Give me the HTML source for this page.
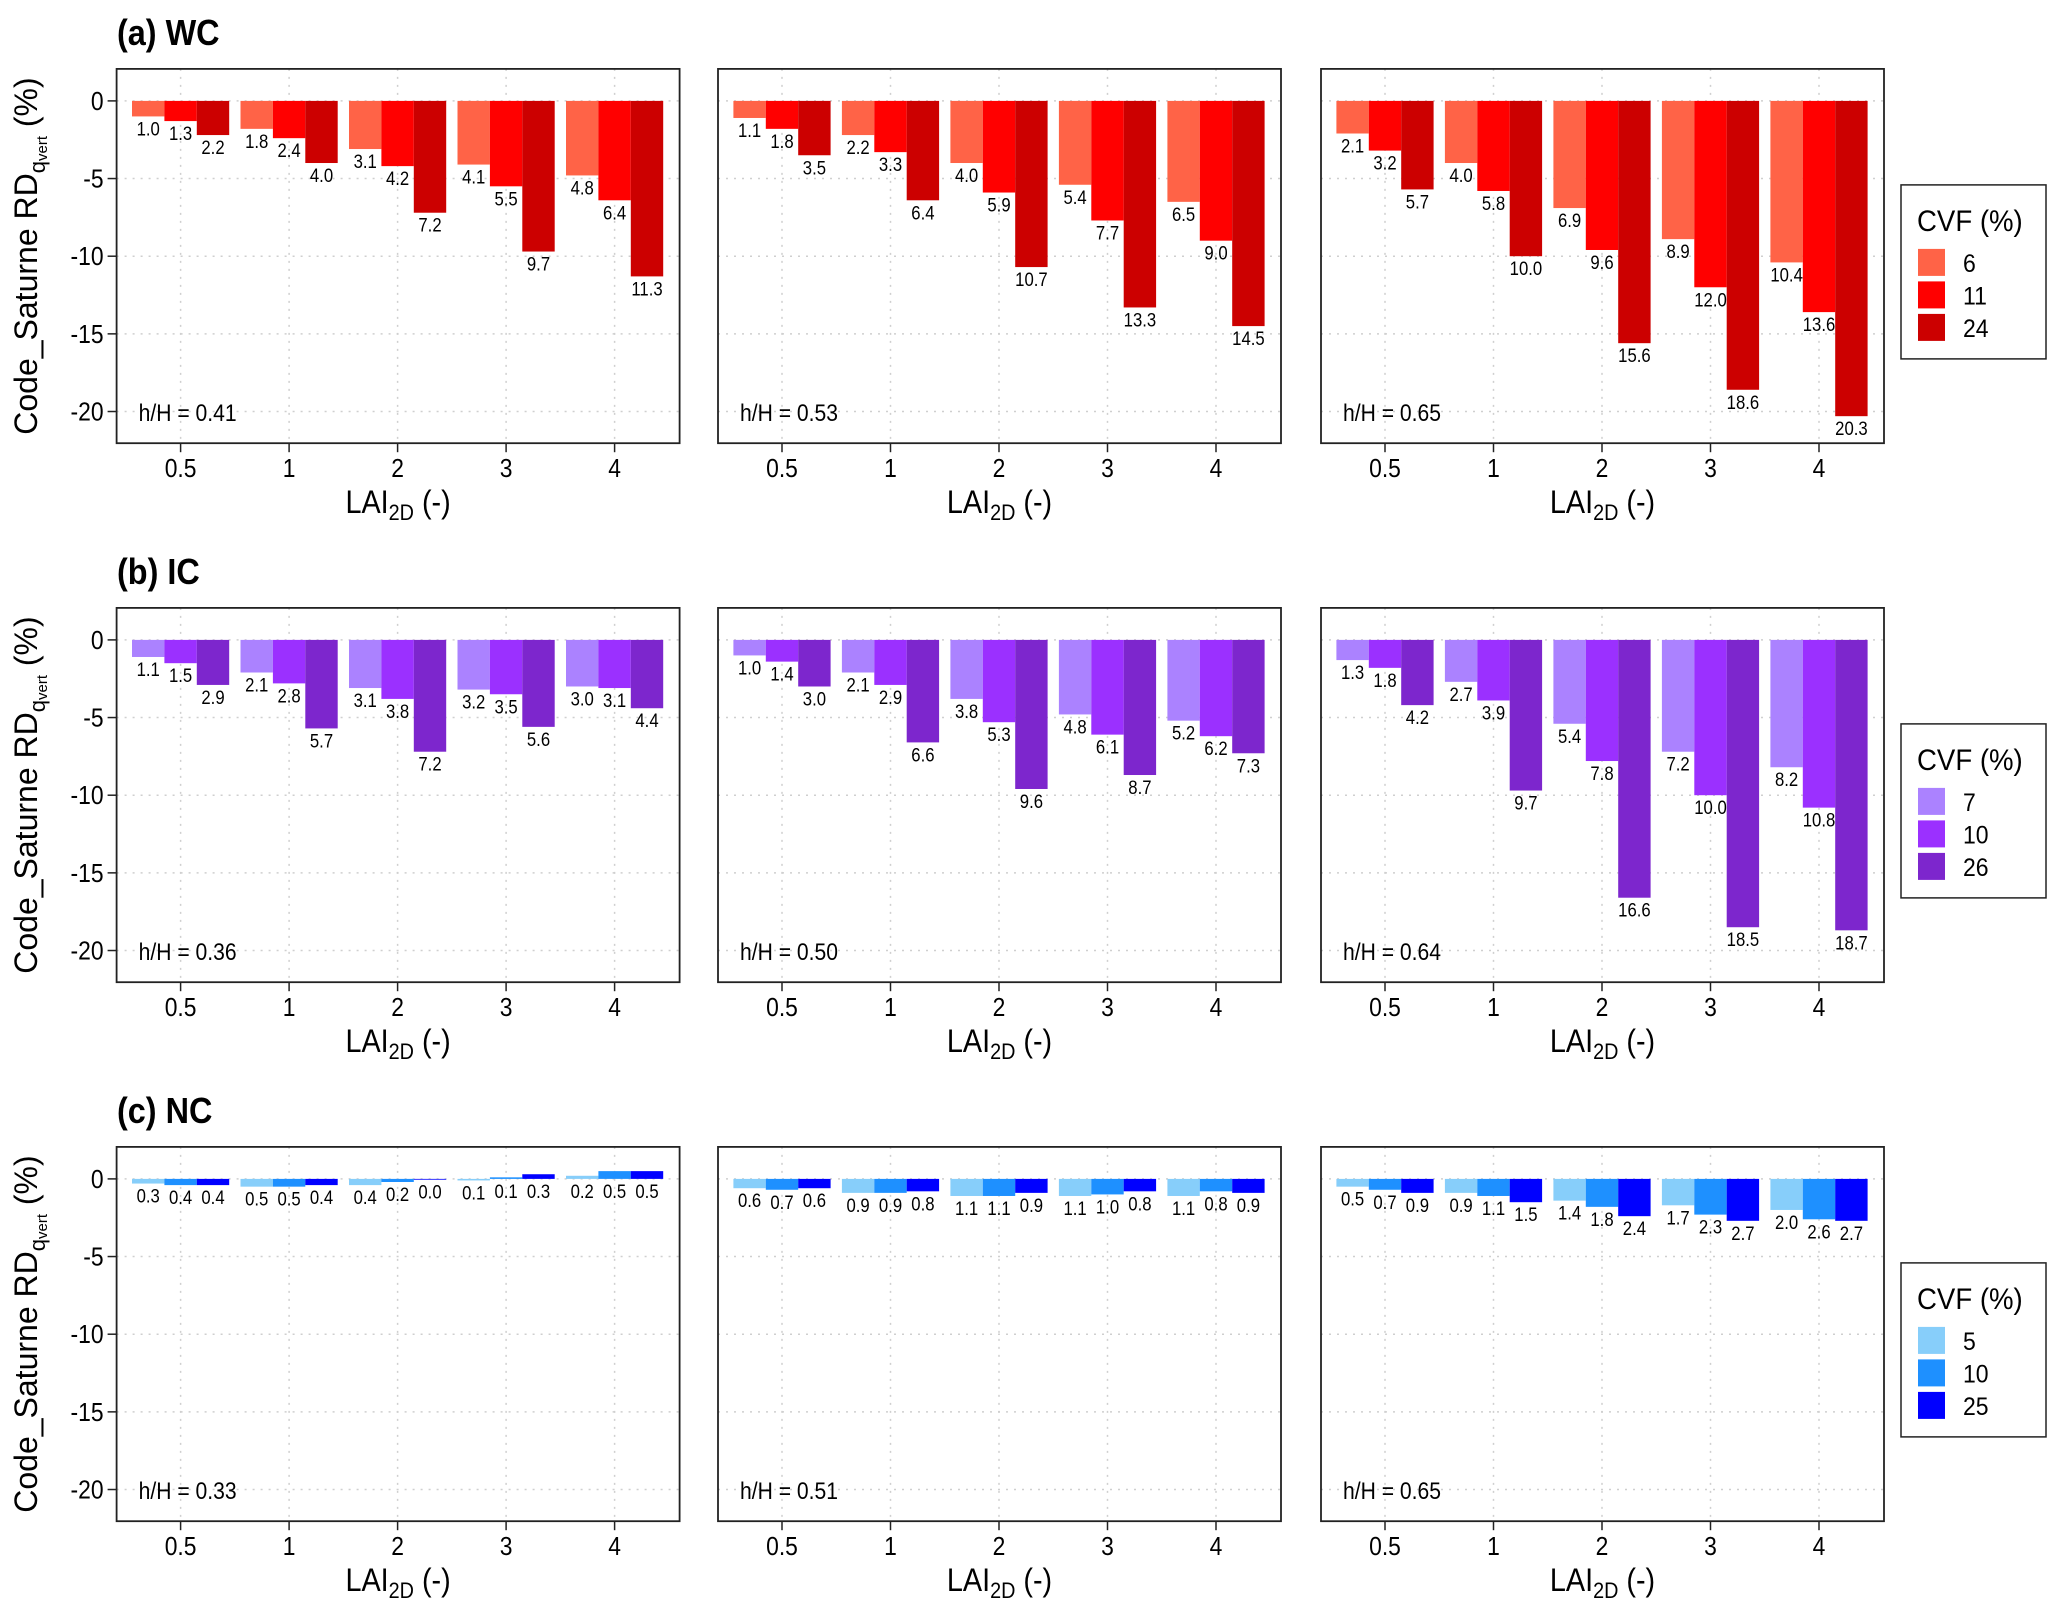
<!DOCTYPE html>
<html><head><meta charset="utf-8"><style>
html,body{margin:0;padding:0;background:#fff}
svg{display:block;font-family:"Liberation Sans",Arial,sans-serif}
</style></head><body>
<svg id="fig" width="2067" height="1614" viewBox="0 0 2067 1614" xmlns="http://www.w3.org/2000/svg"></svg>
<script>
const categories = ["0.5","1","2","3","4"];
const yTicks = [0,-5,-10,-15,-20];
const rowTitles = ["(a) WC","(b) IC","(c) NC"];
const cvfLabels = [["6","11","24"],["7","10","26"],["5","10","25"]];
const hH = [["0.41","0.53","0.65"],["0.36","0.50","0.64"],["0.33","0.51","0.65"]];
const wc1 = [[-1.0,-1.3,-2.2],[-1.8,-2.4,-4.0],[-3.1,-4.2,-7.2],[-4.1,-5.5,-9.7],[-4.8,-6.4,-11.3]];
const wc2 = [[-1.1,-1.8,-3.5],[-2.2,-3.3,-6.4],[-4.0,-5.9,-10.7],[-5.4,-7.7,-13.3],[-6.5,-9.0,-14.5]];
const wc3 = [[-2.1,-3.2,-5.7],[-4.0,-5.8,-10.0],[-6.9,-9.6,-15.6],[-8.9,-12.0,-18.6],[-10.4,-13.6,-20.3]];
const ic1 = [[-1.1,-1.5,-2.9],[-2.1,-2.8,-5.7],[-3.1,-3.8,-7.2],[-3.2,-3.5,-5.6],[-3.0,-3.1,-4.4]];
const ic2 = [[-1.0,-1.4,-3.0],[-2.1,-2.9,-6.6],[-3.8,-5.3,-9.6],[-4.8,-6.1,-8.7],[-5.2,-6.2,-7.3]];
const ic3 = [[-1.3,-1.8,-4.2],[-2.7,-3.9,-9.7],[-5.4,-7.8,-16.6],[-7.2,-10.0,-18.5],[-8.2,-10.8,-18.7]];
const nc1 = [[-0.3,-0.4,-0.4],[-0.5,-0.5,-0.4],[-0.4,-0.2,-0.04],[-0.1,0.1,0.3],[0.2,0.5,0.5]];
const nc2 = [[-0.6,-0.7,-0.6],[-0.9,-0.9,-0.8],[-1.1,-1.1,-0.9],[-1.1,-1.0,-0.8],[-1.1,-0.8,-0.9]];
const nc3 = [[-0.5,-0.7,-0.9],[-0.9,-1.1,-1.5],[-1.4,-1.8,-2.4],[-1.7,-2.3,-2.7],[-2.0,-2.6,-2.7]];
const rowData = [[wc1,wc2,wc3],[ic1,ic2,ic3],[nc1,nc2,nc3]];
const palettes = [["#FF6347","#FF0000","#CC0000"],["#AB82FF","#9B30FF","#7D26CD"],["#87CEFA","#1E90FF","#0000FF"]];

const NS="http://www.w3.org/2000/svg";
const svg=document.getElementById('fig');
function mk(tag,attrs,parent){const e=document.createElementNS(NS,tag);for(const k in attrs)e.setAttribute(k,attrs[k]);(parent||svg).appendChild(e);return e;}
function txt(x,y,s,size,anchor,parent,weight,sx){
  const t=mk('text',{transform:`translate(${x},${y}) scale(${sx||0.88},1)`,'font-size':size,'text-anchor':anchor||'start',fill:'#000'},parent);
  if(weight)t.setAttribute('font-weight',weight);
  t.textContent=s;return t;
}
const panelLeft=[116.6,718,1321], PW=563, PH=374.3, rowTop=[68.9,607.9,1146.9];
const YMAX=2.06, YMIN=-22.04;
function yScale(v,top){return top+(YMAX-v)/(YMAX-YMIN)*PH;}
function xScale(i,left){return left+64+i*108.5;}
const BW=32.4;

rowTitles.forEach((title,r)=>{
  const top=rowTop[r];
  const g=mk('g',{});
  
  
  const tt=txt(117,top-24,title,36,'start',g,'bold',0.9);
  
  
  const yt=mk('text',{transform:`translate(37,${top+PH/2}) rotate(-90)`,'font-size':32,'text-anchor':'middle'},g);
  
  
  yt.innerHTML='Code_Saturne RD<tspan font-size="22" dy="8">q</tspan><tspan font-size="15" dy="2">vert</tspan><tspan dy="-10"> (%)</tspan>';
  for(let p=0;p<3;p++){
    const left=panelLeft[p];
    const pg=mk('g',{},g);
    
    
    categories.forEach((c,i)=>{const x=xScale(i,left);mk('line',{x1:x,x2:x,y1:top,y2:top+PH,stroke:'#cfcfcf','stroke-width':1.5,'stroke-dasharray':'2,6'},pg);});
    yTicks.forEach(v=>{const y=yScale(v,top);mk('line',{x1:left,x2:left+PW,y1:y,y2:y,stroke:'#cfcfcf','stroke-width':1.5,'stroke-dasharray':'2,6'},pg);});
    const data=rowData[r][p];
    data.forEach((grp,i)=>{
      const cx=xScale(i,left);
      grp.forEach((v,k)=>{
        const x=cx-1.5*BW+k*BW;
        const y0=yScale(0,top), y1=yScale(v,top);
        const b=mk('rect',{x:x,y:Math.min(y0,y1),width:BW,height:Math.max(Math.abs(y1-y0),0.8),fill:palettes[r][k]},pg);
        
        
        const ly=yScale(Math.min(v,0),top)+19;
        const l=txt(x+BW/2,ly,Math.abs(v).toFixed(1),19,'middle',pg);
        
        
      });
      mk('line',{x1:cx,x2:cx,y1:top+PH,y2:top+PH+9,stroke:'#222','stroke-width':1.5},pg);
      const xl=txt(cx,top+PH+34,categories[i],26,'middle',pg);
      
      
    });
    if(p===0){
      yTicks.forEach(v=>{const y=yScale(v,top);
        mk('line',{x1:left-9,x2:left,y1:y,y2:y,stroke:'#222','stroke-width':1.5},pg);
        const yl=txt(left-13,y+9,String(v),26,'end',pg);
        
        
      });
    }
    const hl=txt(left+22,top+PH-22,'h/H = '+hH[r][p],24,'start',pg);
    
    
    mk('rect',{x:left,y:top,width:PW,height:PH,fill:'none',stroke:'#222','stroke-width':1.8},pg);
    const xt=mk('text',{transform:`translate(${left+PW/2},${top+PH+70}) scale(0.9,1)`,'font-size':32,'text-anchor':'middle'},pg);
    
    
    xt.innerHTML='LAI<tspan font-size="22" dy="7">2D</tspan><tspan dy="-7"> (-)</tspan>';
  }
  const lg=mk('g',{},g);
  
  
  const lt=top+116;
  mk('rect',{x:1901,y:lt,width:145,height:174,fill:'#fff',stroke:'#222','stroke-width':1.5},lg);
  txt(1917,lt+46,'CVF (%)',30,'start',lg,null,0.92);
  cvfLabels[r].forEach((s,k)=>{
    const sw=mk('rect',{x:1918,y:lt+64+k*32.5,width:27,height:27,fill:palettes[r][k]},lg);
    
    
    txt(1963,lt+87+k*32.5,s,25,'start',lg,null,0.92);
  });
});
</script>
</body></html>
